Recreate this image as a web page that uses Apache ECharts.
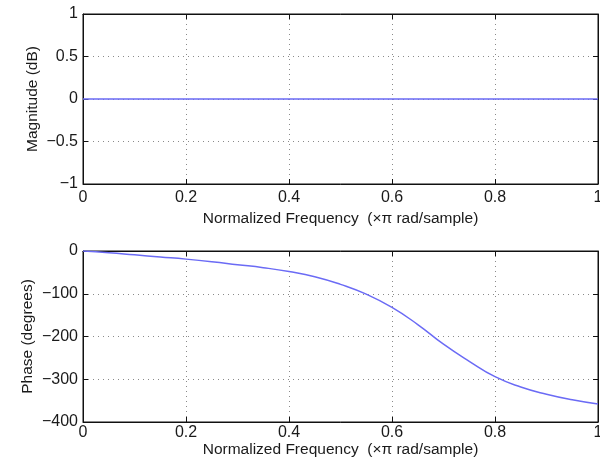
<!DOCTYPE html>
<html><head><meta charset="utf-8">
<script src="https://cdn.jsdelivr.net/npm/echarts@6/dist/echarts.min.js"></script>
<style>html,body{margin:0;padding:0;background:#fff}#c{width:600px;height:464px}</style>
</head><body><div id="c"></div>
<script>
const freq = [0,0.05,0.1,0.15,0.2,0.25,0.3,0.35,0.4,0.45,0.5,0.55,0.6,0.65,0.7,0.75,0.8,0.85,0.9,0.95,1.0];
const magnitude = [0,0,0,0,0,0,0,0,0,0,0,0,0,0,0,0,0,0,0,0,0];
const phase = [0,-4,-9,-14,-19,-25,-32,-39,-48,-60,-78,-101,-132,-172,-218,-258,-294,-318,-335,-348,-358];
const xTicks = [0,0.2,0.4,0.6,0.8,1];
const magTicks = [-1,-0.5,0,0.5,1];
const phaseTicks = [-400,-300,-200,-100,0];

const FONT = '"Liberation Sans", Arial, Helvetica, sans-serif';
const txt = '#1a1a1a';
const lineColor = '#6b6bf5';

function xAx(grid, main, gap, lmargin, pos) {
  return {
    type:'value', gridIndex:grid, min:0, max:1, interval:0.2, position:pos,
    name: main ? 'Normalized Frequency  (\u00d7\u03c0 rad/sample)' : '',
    nameLocation:'middle', nameGap:gap, nameMoveOverlap:false,
    nameTextStyle:{fontFamily:FONT, fontSize:15.5, color:txt},
    axisLine:{show:true, onZero:false, lineStyle:{color:'#111', width:1}},
    axisTick:{show:true, inside:true, length:5, lineStyle:{color:'#111'}},
    axisLabel:{show:main, margin:lmargin, fontFamily:FONT, fontSize:16, color:txt,
      formatter: v => String(+v.toFixed(1))},
    splitLine:{show:main, lineStyle:{type:[1,4], color:'#8a8a8a', width:1}}
  };
}
function yAx(grid, main, name, min, max, itv, gap, pos, fmt) {
  return {
    type:'value', gridIndex:grid, min:min, max:max, interval:itv, position:pos,
    name: main ? name : '', nameLocation:'middle', nameGap:gap, nameMoveOverlap:false,
    nameTextStyle:{fontFamily:FONT, fontSize:15.5, color:txt},
    axisLine:{show:true, onZero:false, lineStyle:{color:'#111', width:1}},
    axisTick:{show:true, inside:true, length:5, lineStyle:{color:'#111'}},
    axisLabel:{show:main, margin:5, fontFamily:FONT, fontSize:16, color:txt,
      formatter: v => fmt(v).replace('-', '\u2212')},
    splitLine:{show:main, lineStyle:{type:[1,4], color:'#8a8a8a', width:1}}
  };
}

const chart = echarts.init(document.getElementById('c'), null, {renderer:'canvas'});
chart.setOption({
  animation:false,
  backgroundColor:'#fff',
  grid:[
    {left:83, right:2, top:14, height:170, show:true, borderColor:'#111', borderWidth:1, containLabel:false, outerBoundsMode:'none'},
    {left:83, right:2, top:251, height:171, show:true, borderColor:'#111', borderWidth:1, containLabel:false, outerBoundsMode:'none'}
  ],
  xAxis:[
    xAx(0, true, 27, 6, 'bottom'),
    xAx(1, true, 20, 3, 'bottom'),
    xAx(0, false, 0, 0, 'top'),
    xAx(1, false, 0, 0, 'top')
  ],
  yAxis:[
    yAx(0, true, 'Magnitude (dB)', magTicks[0], magTicks[magTicks.length-1], 0.5, 42, 'left', v => String(+v.toFixed(1))),
    yAx(1, true, 'Phase (degrees)', phaseTicks[0], phaseTicks[phaseTicks.length-1], 100, 47, 'left', v => String(v)),
    yAx(0, false, '', magTicks[0], magTicks[magTicks.length-1], 0.5, 0, 'right', v => ''),
    yAx(1, false, '', phaseTicks[0], phaseTicks[phaseTicks.length-1], 100, 0, 'right', v => '')
  ],
  series:[
    {type:'line', xAxisIndex:0, yAxisIndex:0, data:freq.map((f,i)=>[f, magnitude[i]]),
      showSymbol:false, lineStyle:{color:lineColor, width:1.5}},
    {type:'line', xAxisIndex:1, yAxisIndex:1, data:freq.map((f,i)=>[f, phase[i]]),
      smooth:0.5, showSymbol:false, lineStyle:{color:lineColor, width:1.5}}
  ]
});
</script></body></html>
